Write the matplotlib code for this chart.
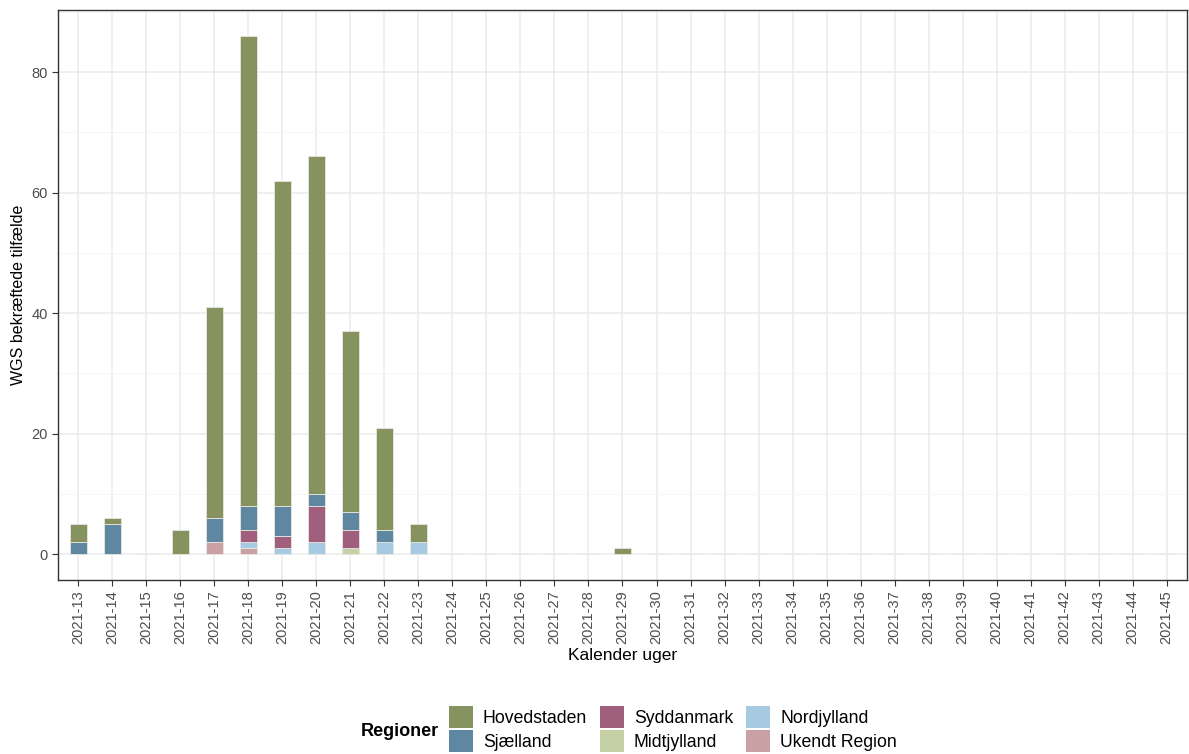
import matplotlib
matplotlib.use("Agg")
import matplotlib.pyplot as plt
import numpy as np
from matplotlib.patches import Patch
from matplotlib.ticker import MultipleLocator

weeks = [f"2021-{w}" for w in range(13, 46)]
regions = ["Hovedstaden", "Sjælland", "Syddanmark", "Midtjylland", "Nordjylland", "Ukendt Region"]
colors = {"Hovedstaden": "#87935f", "Sjælland": "#5f87a1", "Syddanmark": "#a05f7d",
          "Midtjylland": "#c5d1a5", "Nordjylland": "#a7cae3", "Ukendt Region": "#c9a1a5"}

hovedstaden = {"2021-13": 3, "2021-14": 1, "2021-16": 4, "2021-17": 35, "2021-18": 78, "2021-19": 54,
               "2021-20": 56, "2021-21": 30, "2021-22": 17, "2021-23": 3, "2021-29": 1}
sjaelland = {"2021-13": 2, "2021-14": 5, "2021-17": 4, "2021-18": 4, "2021-19": 5, "2021-20": 2,
             "2021-21": 3, "2021-22": 2}
syddanmark = {"2021-18": 2, "2021-19": 2, "2021-20": 6, "2021-21": 3}
midtjylland = {"2021-21": 1}
nordjylland = {"2021-18": 1, "2021-19": 1, "2021-20": 2, "2021-22": 2, "2021-23": 2}
ukendt = {"2021-17": 2, "2021-18": 1}

data = {"Hovedstaden": hovedstaden, "Sjælland": sjaelland, "Syddanmark": syddanmark,
        "Midtjylland": midtjylland, "Nordjylland": nordjylland, "Ukendt Region": ukendt}

plt.rcParams['font.family'] = ['Liberation Sans', 'DejaVu Sans']

W, H = 1189, 754
fig = plt.figure(figsize=(W/100, H/100), dpi=100)
ax = fig.add_axes([58/W, 1-580/H, (1187-58)/W, (580-10)/H])

x = np.arange(len(weeks))
bottom = np.zeros(len(weeks))
for r in reversed(regions):
    vals = np.array([data[r].get(w, 0) for w in weeks], dtype=float)
    ax.bar(x, vals, width=0.5, bottom=bottom, color=colors[r], edgecolor="#e8e8e0",
           linewidth=0.6, zorder=3)
    bottom += vals

ax.set_xlim(-0.6, len(weeks) - 1 + 0.6)
ax.set_ylim(-4.3, 90.3)
ax.set_xticks(x)
ax.set_xticklabels(weeks, rotation=90, fontsize=10.5, color="#4d4d4d")
ax.yaxis.set_major_locator(MultipleLocator(20))
ax.yaxis.set_minor_locator(MultipleLocator(10))
ax.tick_params(axis='y', labelsize=10.5, labelcolor="#4d4d4d", color="#333333", length=4)
ax.tick_params(axis='y', which='minor', length=0)
ax.tick_params(axis='x', color="#333333", length=4)
ax.grid(True, which='major', color="#ebebeb", linewidth=1.1, zorder=0)
ax.grid(True, which='minor', axis='y', color="#f4f4f4", linewidth=0.6, zorder=0)
ax.set_axisbelow(True)
for s in ax.spines.values():
    s.set_color("#333333")
    s.set_linewidth(1.0)

ax.set_ylabel("WGS bekræftede tilfælde", fontsize=11.5)
ax.set_xlabel("Kalender uger", fontsize=12.5, labelpad=3)

handles = [Patch(facecolor=colors[r], edgecolor="none", label=r) for r in regions]
leg = fig.legend(handles=handles, ncol=3, loc="center left", bbox_to_anchor=(449/W, 1-729/H),
                 frameon=False, fontsize=12.7, handlelength=1.36, handleheight=1.55,
                 columnspacing=0.75, handletextpad=0.55, labelspacing=0.12,
                 borderpad=0, borderaxespad=0)
fig.text(439/W, 1-732/H, "Regioner", fontsize=13, fontweight='bold', ha='right', va='center')

fig.savefig("out.png", dpi=100)
